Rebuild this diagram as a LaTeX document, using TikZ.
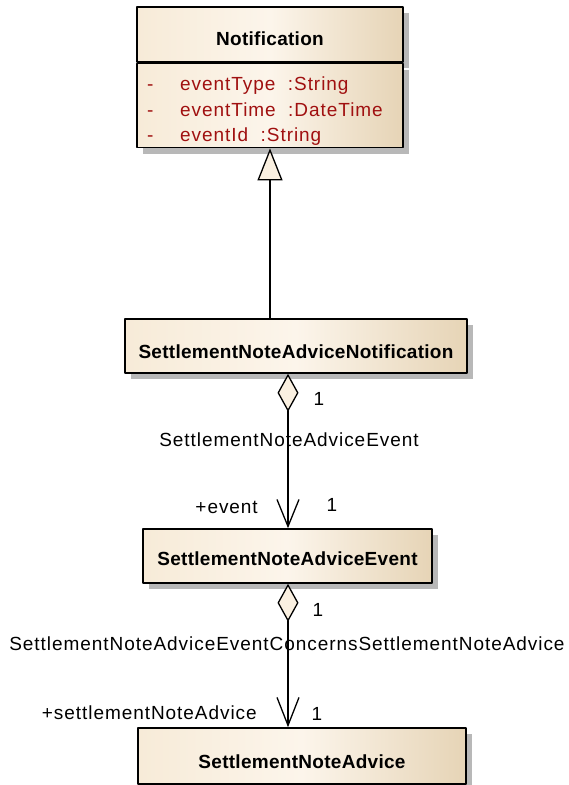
\documentclass[tikz,border=0pt]{standalone}
\usepackage{fontspec}
\setmainfont{Liberation Sans}[LetterSpace=5]
\newfontfamily\clsfont{Liberation Sans}[LetterSpace=1.5]
\usetikzlibrary{arrows.meta,shadows}
\definecolor{clsleft}{RGB}{247,235,216}
\definecolor{clsmid}{RGB}{252,245,235}
\definecolor{clsright}{RGB}{230,212,182}
\definecolor{attrred}{RGB}{160,16,16}
\definecolor{headfill}{RGB}{250,240,225}
\tikzset{
	classbox/.style={draw=black,line width=1.6pt,left color=clsleft,right color=clsright,middle color=clsmid,
		drop shadow={shadow xshift=6pt,shadow yshift=-6pt,fill=black!28,opacity=1},inner sep=0pt},
	classname/.style={font=\clsfont\bfseries\fontsize{19}{22}\selectfont,inner sep=0pt,anchor=base},
	attrtext/.style={font=\fontsize{19}{22}\selectfont,text=attrred,inner sep=0pt,anchor=base west},
	roletext/.style={font=\fontsize{19}{22}\selectfont,inner sep=0pt,anchor=base},
	connector/.style={line width=1.3pt},
}
\begin{document}
\begin{tikzpicture}[x=1pt,y=-1pt,line join=round,line cap=round]
	\useasboundingbox (0,0) rectangle (569,785);
	% === Notification ===
	\node[classbox,minimum width=266pt,minimum height=55pt] (notif) at (270,34.5) {};
	\node[classbox,minimum width=266pt,minimum height=84pt,anchor=north] (notifattr) at (notif.south) {};
	\node[classname] (notifname) at (270,45.5) {Notification};
	\node[attrtext] (vis1) at (147,90.5) {-};
	\node[attrtext] (attr1) at (180,90.5) {eventType~~:String};
	\node[attrtext] (vis2) at (147,116) {-};
	\node[attrtext] (attr2) at (180,116) {eventTime~~:DateTime};
	\node[attrtext] (vis3) at (147,141.5) {-};
	\node[attrtext] (attr3) at (180,141.5) {eventId~~:String};
	% === Cac lop con ===
	\node[classbox,minimum width=342pt,minimum height=54pt] (snan) at (296,346) {};
	\node[classname] (snanname) at (296,358) {SettlementNoteAdviceNotification};
	\node[classbox,minimum width=289pt,minimum height=54pt] (snae) at (287.5,556) {};
	\node[classname] (snaename) at (287.5,565) {SettlementNoteAdviceEvent};
	\node[classbox,minimum width=328pt,minimum height=56pt] (sna) at (302,756) {};
	\node[classname] (snaname) at (302,768) {SettlementNoteAdvice};
	% === Duong noi ===
	\coordinate (aggx) at (288,0);
	\draw[connector,-{Triangle[length=32pt,width=25pt,fill=headfill]}] (snan.north -| notifattr.south) -- (notifattr.south);
	\draw[connector,{Diamond[length=38pt,width=21pt,fill=headfill]}-{Straight Barb[length=27pt,width=22pt]}] (snan.south -| aggx) -- (snae.north -| aggx);
	\draw[connector,{Diamond[length=38pt,width=21pt,fill=headfill]}-{Straight Barb[length=28pt,width=22pt]}] (snae.south -| aggx) -- (sna.north -| aggx);
	% === Nhan ===
	\node[roletext] (mult1) at (319,405) {1};
	\node[roletext] (assoc1) at (289,446) {SettlementNoteAdviceEvent};
	\node[roletext,anchor=base east] (role1) at (258,513) {+event};
	\node[roletext] (mult2) at (332,511) {1};
	\node[roletext] (mult3) at (318,616) {1};
	\node[roletext] (assoc2) at (287,650) {SettlementNoteAdviceEventConcernsSettlementNoteAdvice};
	\node[roletext,anchor=base east] (role2) at (257,719) {+settlementNoteAdvice};
	\node[roletext] (mult4) at (317,720) {1};
\end{tikzpicture}
\end{document}
